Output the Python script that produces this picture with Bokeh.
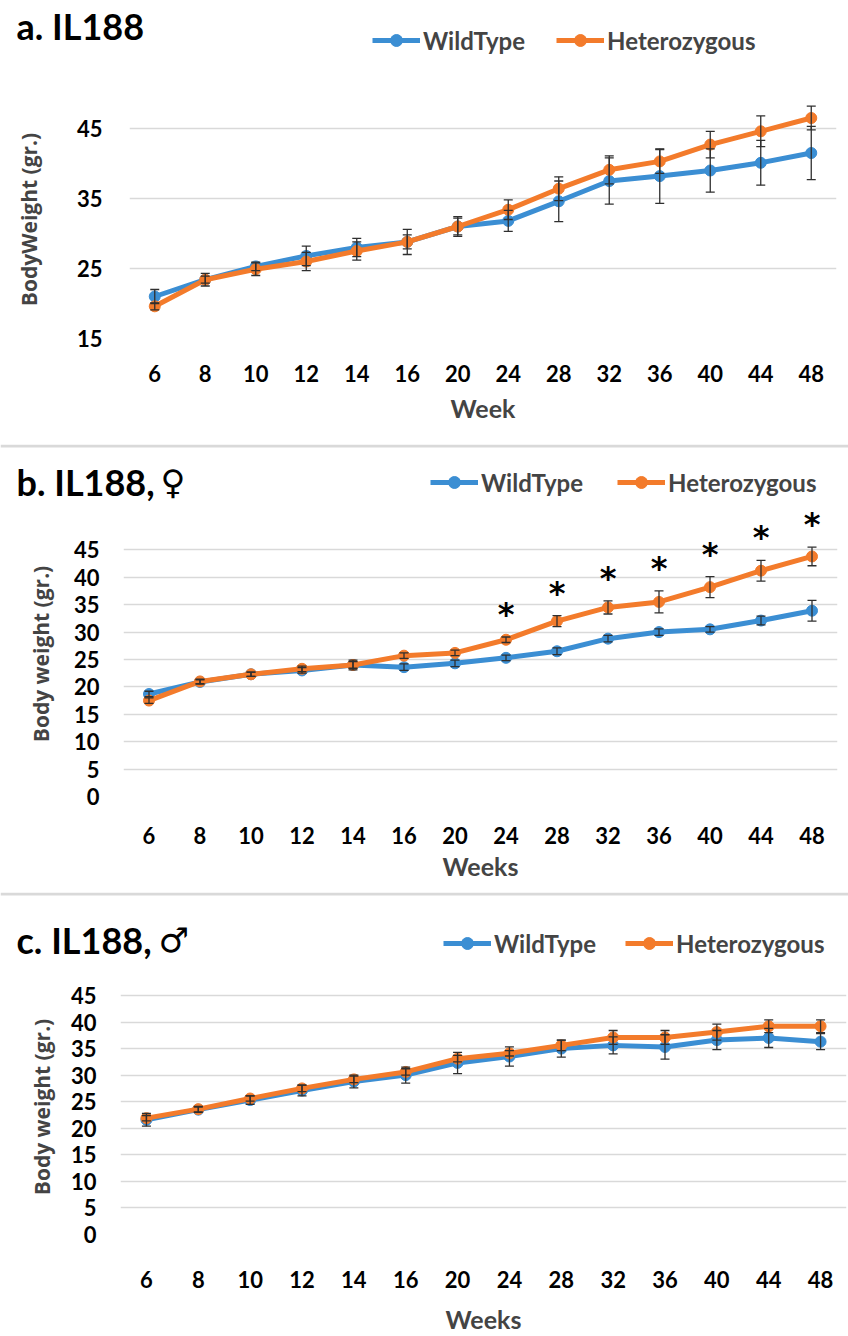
from bokeh.plotting import figure
from bokeh.models import (ColumnDataSource, Whisker, TeeHead, Label, Legend, LegendItem,
                          Range1d, FactorRange, FixedTicker, Span)
from bokeh.layouts import column
from bokeh.embed import file_html
from bokeh.resources import INLINE
from bokeh.core.properties import value

weeks = ["6", "8", "10", "12", "14", "16", "20", "24", "28", "32", "36", "40", "44", "48"]

# Panel a: IL188 (all)
a_wt = [21.0, 23.4, 25.3, 26.8, 28.0, 28.8, 31.0, 31.8, 34.6, 37.5, 38.2, 39.0, 40.1, 41.5]
a_wt_err = [1.0, 0.5, 0.6, 1.4, 1.3, 1.0, 1.2, 1.5, 2.9, 3.3, 3.9, 3.1, 3.2, 3.8]
a_het = [19.6, 23.4, 24.9, 26.0, 27.5, 28.8, 31.0, 33.4, 36.4, 39.1, 40.3, 42.7, 44.6, 46.5]
a_het_err = [0.5, 0.9, 0.9, 1.3, 1.3, 1.8, 1.4, 1.4, 1.7, 2.0, 1.7, 1.9, 2.2, 1.7]

# Panel b: IL188 females
b_wt = [18.7, 20.9, 22.3, 23.0, 24.0, 23.6, 24.3, 25.3, 26.5, 28.8, 30.0, 30.5, 32.1, 33.9]
b_wt_err = [0.5, 0.4, 0.4, 0.5, 0.9, 0.6, 0.6, 0.5, 0.6, 0.6, 0.6, 0.5, 0.8, 1.9]
b_het = [17.5, 21.0, 22.3, 23.3, 24.0, 25.7, 26.2, 28.6, 32.0, 34.5, 35.5, 38.2, 41.2, 43.8]
b_het_err = [0.5, 0.4, 0.4, 0.5, 0.6, 0.5, 0.5, 0.5, 1.0, 1.2, 2.0, 1.9, 1.9, 1.7]
b_sig = ["24", "28", "32", "36", "40", "44", "48"]

# Panel c: IL188 males
c_wt = [21.6, 23.5, 25.3, 27.1, 28.8, 30.0, 32.3, 33.5, 35.0, 35.6, 35.3, 36.6, 37.0, 36.3]
c_wt_err = [1.2, 0.5, 0.8, 1.0, 1.2, 1.5, 2.0, 1.8, 1.6, 1.6, 2.3, 1.8, 1.8, 1.5]
c_het = [21.9, 23.6, 25.6, 27.5, 29.2, 30.6, 33.1, 34.1, 35.6, 37.1, 37.1, 38.1, 39.2, 39.2]
c_het_err = [0.5, 0.5, 0.5, 0.6, 0.6, 0.6, 0.6, 0.5, 1.0, 1.3, 1.3, 1.5, 1.2, 1.2]

series_names = ["WildType", "Heterozygous"]

BLUE = "#3b8ed3"
ORANGE = "#f37b2b"
ERR = "#2f2f2f"
GRID = "#d9d9d9"
FONT = "Lato"


def header(title, symbol, H, title_xy, sym_x, leg_xy, spacing, sep=True):
    h = figure(width=848, height=H, x_range=Range1d(0, 848), y_range=Range1d(0, H),
               x_axis_type=None, y_axis_type=None, output_backend="svg", toolbar_location=None,
               min_border=0, frame_align=False)
    h.outline_line_color = None
    h.grid.visible = False
    h.background_fill_color = "white"
    h.border_fill_color = "white"
    if sep:
        h.add_layout(Span(location=H - 1.5, dimension="width", line_color=GRID, line_width=3))
    h.add_layout(Label(x=title_xy[0], y=H - title_xy[1], text=title, text_font=FONT,
                       text_font_style="bold", text_font_size="36px", text_baseline="middle",
                       text_align="left", text_color="black"))
    if symbol:
        h.add_layout(Label(x=sym_x, y=H - title_xy[1], text=symbol, text_font="DejaVu Sans",
                           text_font_style="bold", text_font_size="34px", text_baseline="middle",
                           text_align="left", text_color="black"))
    items = []
    for name, col in zip(series_names, (BLUE, ORANGE)):
        ln = h.line(x=[-50, -40], y=[-50, -50], line_color=col, line_width=5)
        sc = h.scatter(x=[-50], y=[-50], size=9, fill_color=col, line_color=col)
        items.append(LegendItem(label=name, renderers=[ln, sc]))
    lh = 30
    legend = Legend(items=items, orientation="horizontal",
                    location=(leg_xy[0], H - leg_xy[1] - lh / 2),
                    label_text_font=FONT, label_text_font_style="bold", label_text_font_size="24px",
                    glyph_width=48, glyph_height=lh, label_height=lh, spacing=spacing, padding=0,
                    margin=0, label_standoff=3, background_fill_alpha=0, border_line_alpha=0)
    h.add_layout(legend)
    return h


def panel(ylabel, xlabel, wt, wt_err, het, het_err, *, height, fl, fr, ft, fb,
          y0, y1, ticks, xstand, ystand, ylstand, xlstand, sig=None):
    p = figure(width=848, height=height, x_range=FactorRange(*weeks), y_range=Range1d(y0, y1),
               output_backend="svg", toolbar_location=None, frame_align=False,
               min_border_left=fl, min_border_right=fr, min_border_top=ft, min_border_bottom=fb)
    p.outline_line_color = None
    p.background_fill_color = "white"
    p.border_fill_color = "white"
    p.xgrid.grid_line_color = None
    p.ygrid.grid_line_color = GRID
    p.ygrid.grid_line_width = 1.5
    p.yaxis.ticker = FixedTicker(ticks=ticks)
    for ax in (p.xaxis, p.yaxis):
        ax.axis_line_color = None
        ax.major_tick_line_color = None
        ax.minor_tick_line_color = None
        ax.major_label_text_font = FONT
        ax.major_label_text_font_style = "bold"
        ax.major_label_text_font_size = "22px"
        ax.major_label_text_color = "#000000"
    p.xaxis.major_label_standoff = xstand
    p.yaxis.major_label_standoff = ystand

    p.yaxis.axis_label = ylabel
    p.yaxis.axis_label_text_font = "Open Sans"
    p.yaxis.axis_label_text_font_style = "bold"
    p.yaxis.axis_label_text_font_size = "21px"
    p.yaxis.axis_label_standoff = ylstand
    p.xaxis.axis_label = xlabel
    p.xaxis.axis_label_text_font = FONT
    p.xaxis.axis_label_text_font_style = "bold"
    p.xaxis.axis_label_text_font_size = "25px"
    p.xaxis.axis_label_standoff = xlstand

    for vals, errs, col in ((wt, wt_err, BLUE), (het, het_err, ORANGE)):
        src = ColumnDataSource(dict(x=weeks, y=vals,
                                    lo=[v - e for v, e in zip(vals, errs)],
                                    hi=[v + e for v, e in zip(vals, errs)]))
        p.line("x", "y", source=src, line_color=col, line_width=5)
        p.scatter("x", "y", source=src, size=11, fill_color=col, line_color=col)
        w = Whisker(base="x", lower="lo", upper="hi", source=src, line_color=ERR, line_width=1.3,
                    upper_head=TeeHead(size=9, line_color=ERR, line_width=1.3),
                    lower_head=TeeHead(size=9, line_color=ERR, line_width=1.3), level="overlay")
        p.add_layout(w)

    if sig is not None:
        idx = [weeks.index(s) for s in sig]
        sy = [het[i] + het_err[i] + 4.2 for i in idx]
        p.text(x=sig, y=sy, text=["*"] * len(sig), text_font=value("DejaVu Sans"),
               text_font_style="bold", text_font_size="32px", text_align="center",
               text_baseline="middle", text_color="black")
    return p


ha = header("a. IL188", "", 75, title_xy=(16, 25), sym_x=0, leg_xy=(372, 40), spacing=31, sep=False)
pa = panel("BodyWeight (gr.)", "Week", a_wt, a_wt_err, a_het, a_het_err,
           height=369, fl=129, fr=12, ft=25, fb=106, y0=15, y1=49, ticks=[15, 25, 35, 45],
           xstand=20, ystand=21, ylstand=31, xlstand=8)

hb = header("b. IL188,", "\u2640", 61, title_xy=(16, 37), sym_x=160, leg_xy=(430, 38), spacing=34)
pb = panel("Body weight (gr.)", "Weeks", b_wt, b_wt_err, b_het, b_het_err,
           height=387, fl=123, fr=11, ft=6, fb=96, y0=0, y1=52, ticks=list(range(0, 50, 5)),
           xstand=24, ystand=18, ylstand=16, xlstand=4, sig=b_sig)

hc = header("c. IL188,", "\u2642", 68, title_xy=(16, 47), sym_x=158, leg_xy=(443, 51), spacing=29)
pc = panel("Body weight (gr.)", "Weeks", c_wt, c_wt_err, c_het, c_het_err,
           height=376, fl=120, fr=2, ft=19, fb=101, y0=0, y1=48, ticks=list(range(0, 50, 5)),
           xstand=30, ystand=18, ylstand=12, xlstand=13)

layout = column(ha, pa, hb, pb, hc, pc, spacing=0)
open("out.html", "w").write(file_html(layout, INLINE))
